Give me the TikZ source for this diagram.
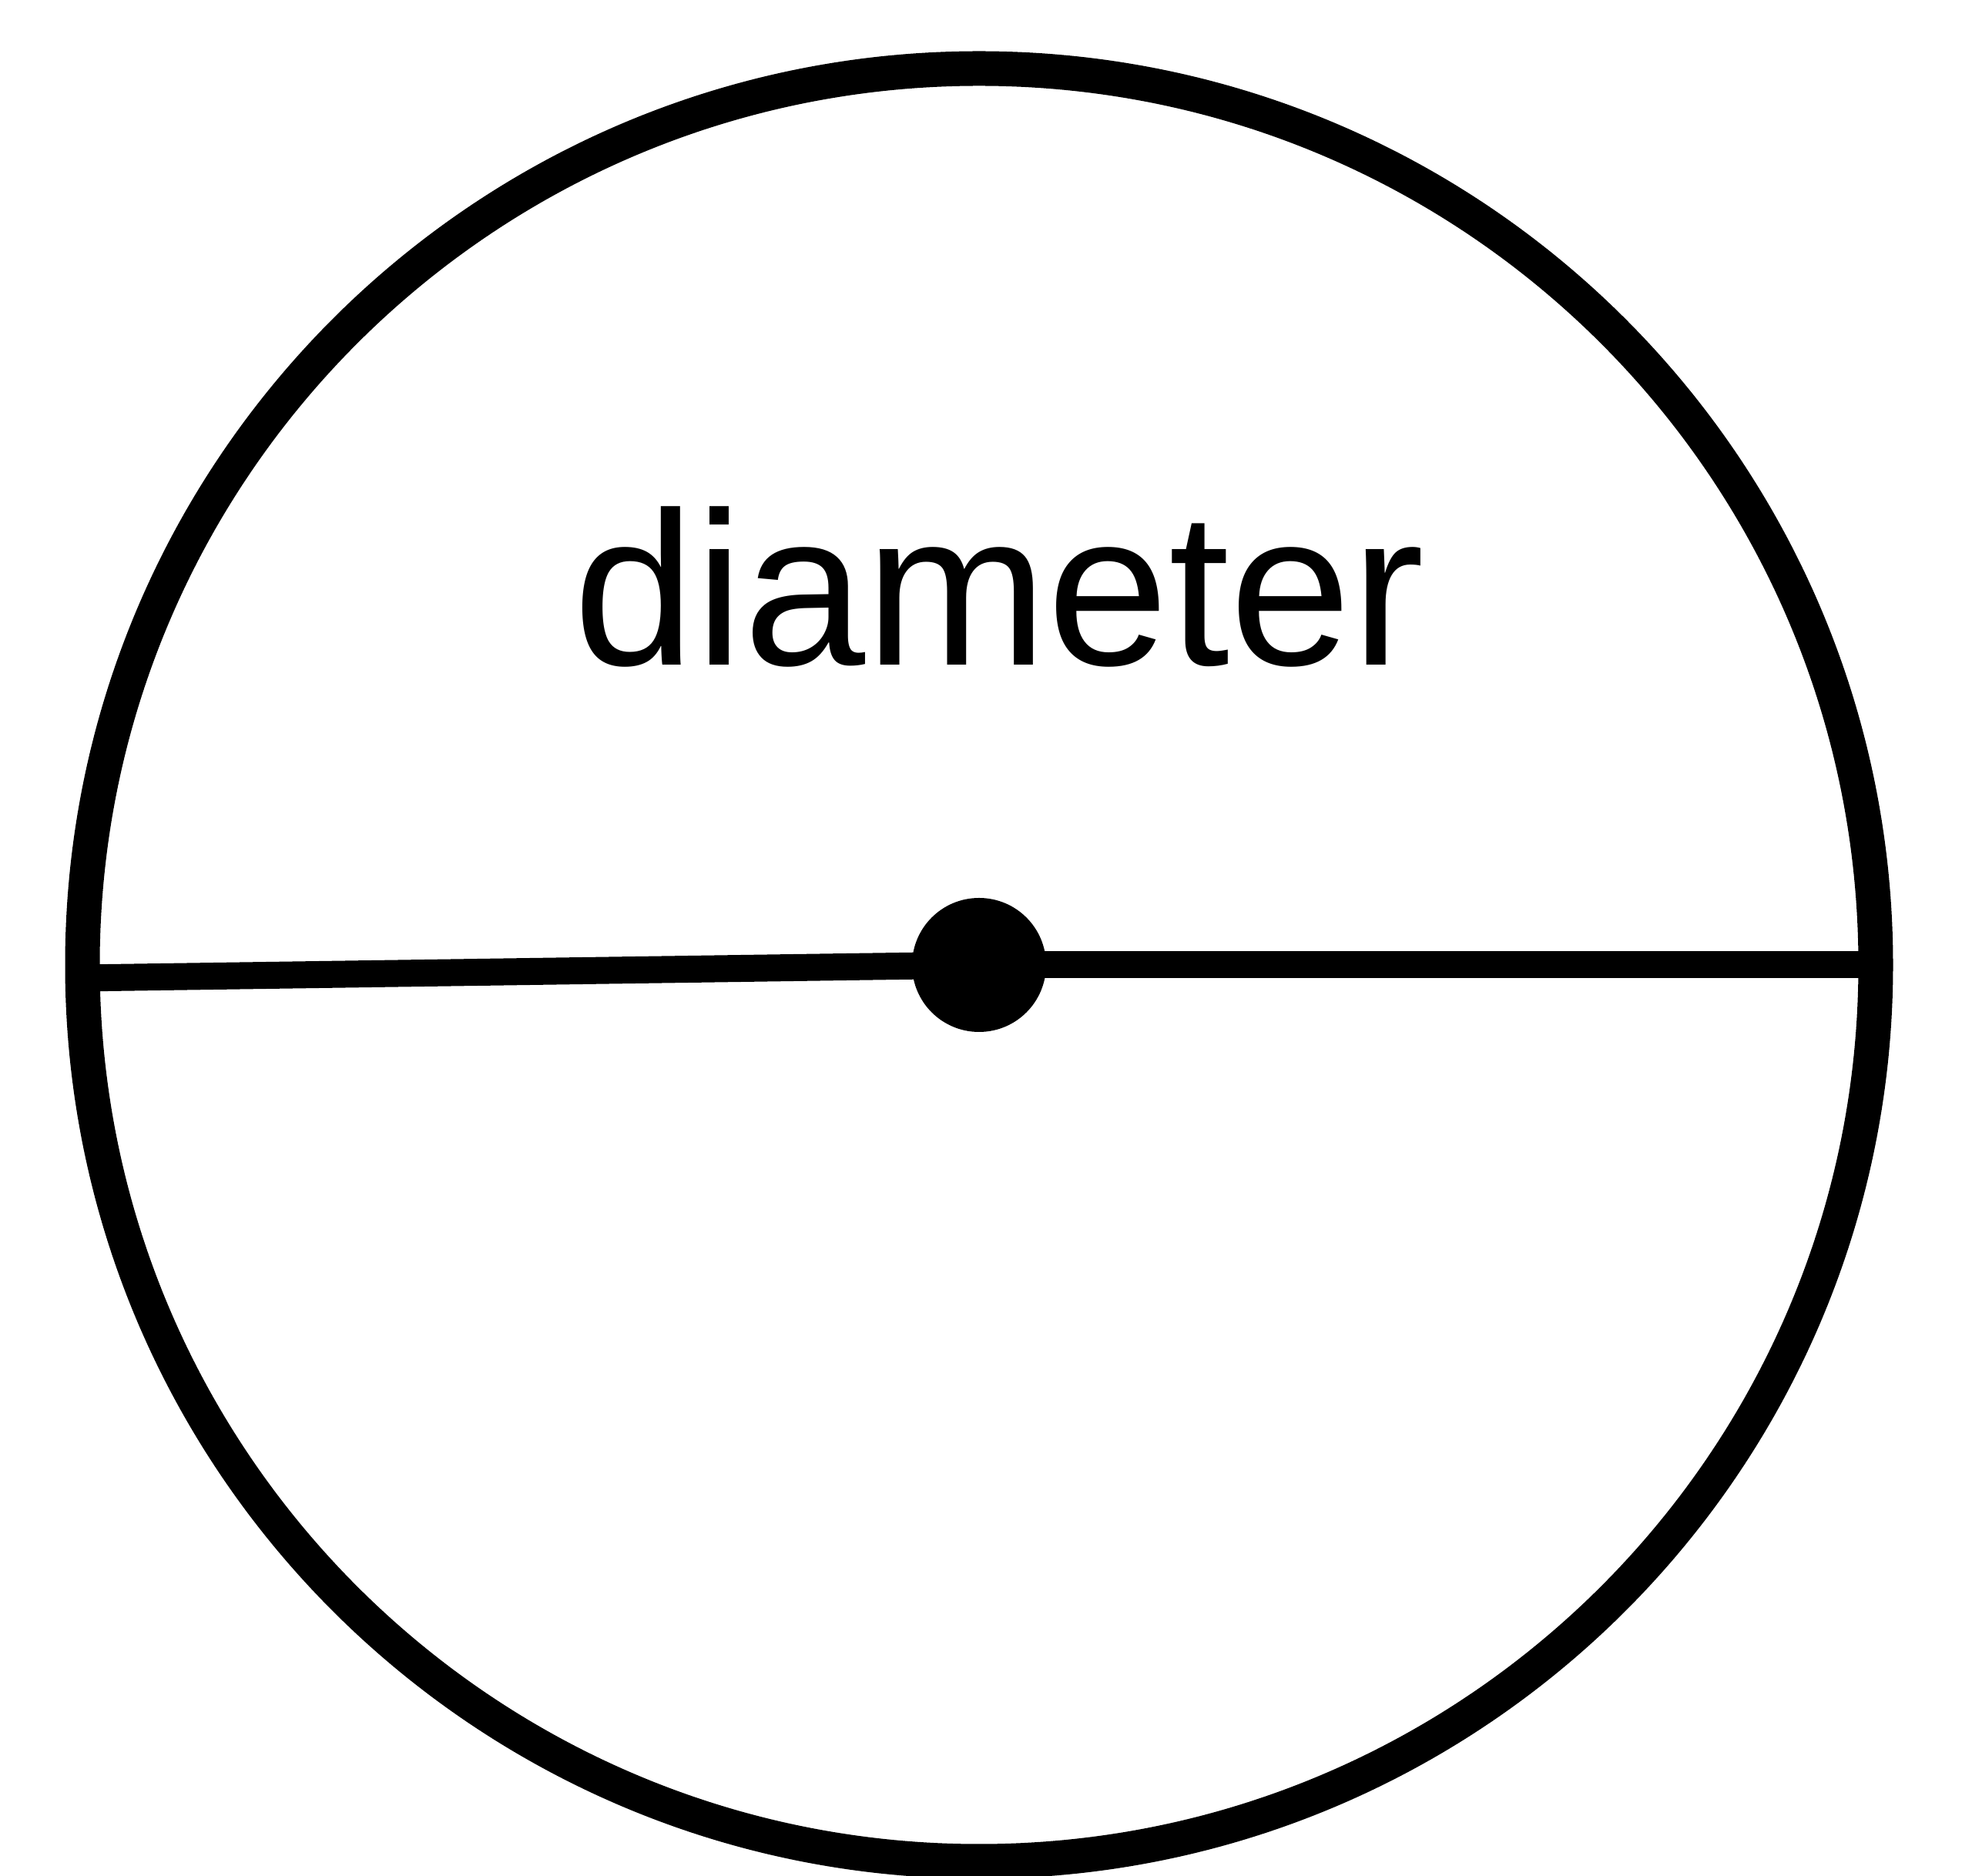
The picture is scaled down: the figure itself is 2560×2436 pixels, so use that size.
\documentclass[tikz,border=0pt]{standalone}
\usepackage{fontspec}
\setmainfont{Liberation Sans}
\usetikzlibrary{positioning}

\tikzset{
    rim/.style={draw=black, line width=45pt},
    chord/.style={draw=black, line width=35pt},
    centredot/.style={circle, fill=black, inner sep=0pt, minimum size=174pt},
    label/.style={font=\fontsize{284}{300}\selectfont, anchor=base, inner sep=0pt}
}

\begin{document}
\begin{tikzpicture}[x=1pt, y=1pt]
    \useasboundingbox (0,0) rectangle (2560,2436);

    % circle and the points on it
    \coordinate (O) at (1271,1183);
    \coordinate (L) at (107,1166);
    \coordinate (R) at (2435,1183);
    \draw[rim] (O) circle (1164);

    % the two halves of the diameter
    \draw[chord] (L) -- (O);
    \draw[chord] (O) -- (R);

    \node[centredot] (centre) at (O) {};
    \node[label] (word) at (1297,1572) {diameter};
\end{tikzpicture}
\end{document}
